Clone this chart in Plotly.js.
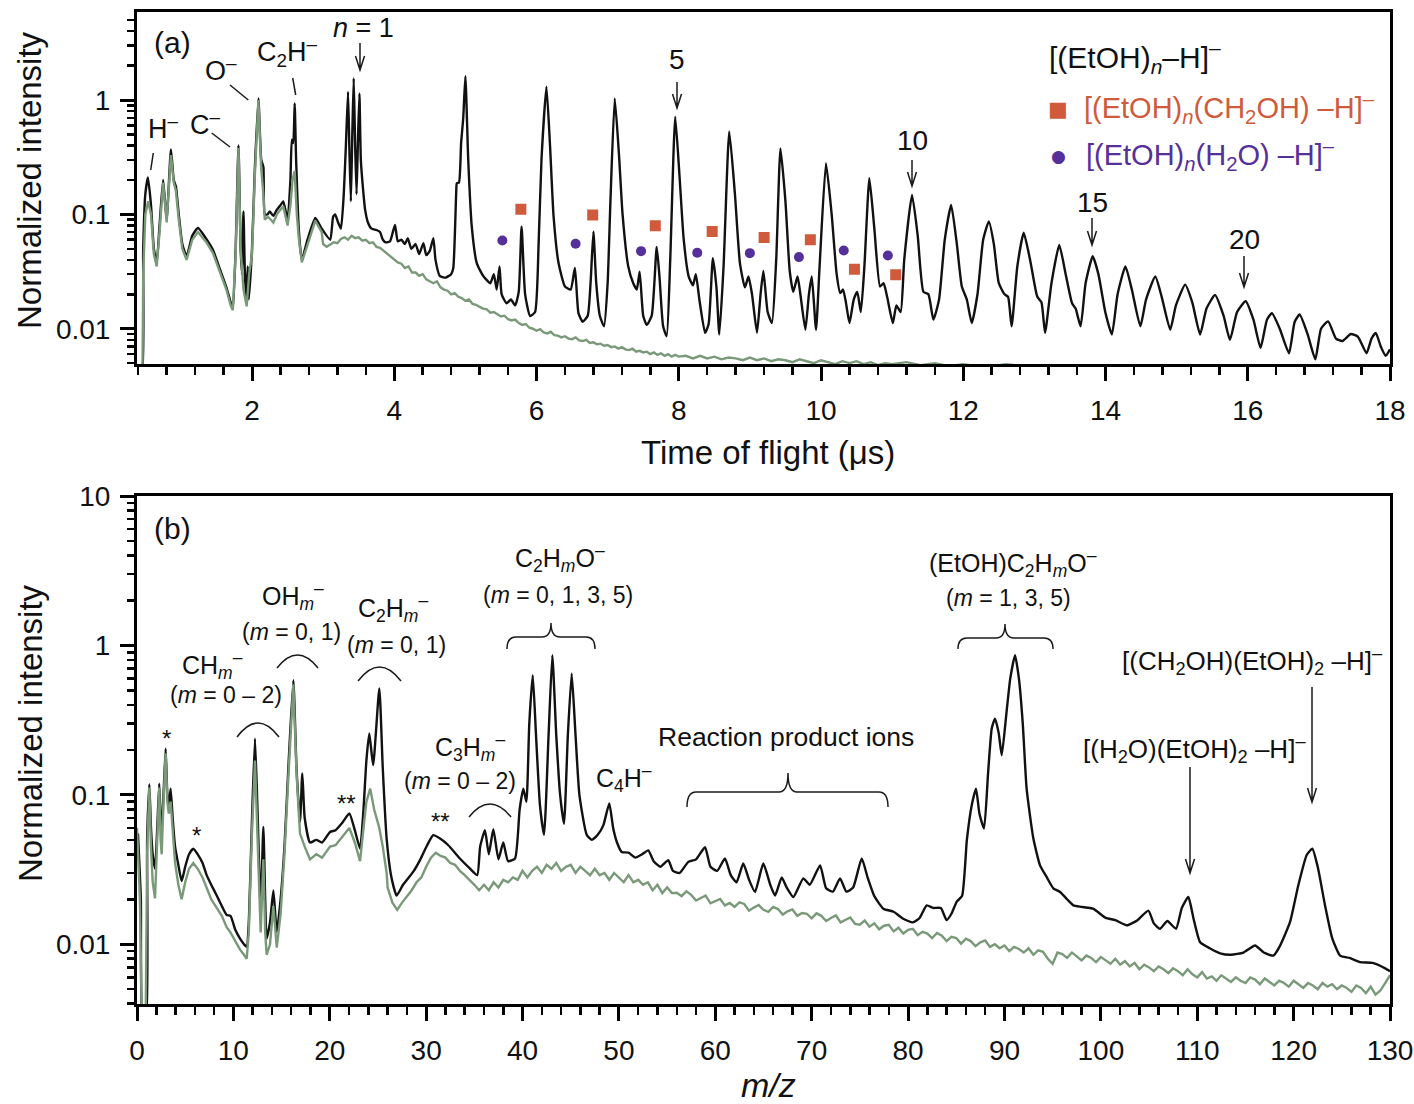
<!DOCTYPE html>
<html>
<head>
<meta charset="utf-8">
<script src="https://cdn.plot.ly/plotly-3.0.1.min.js"></script>
<style>html,body{margin:0;padding:0;background:#fff;}#chart{width:1414px;height:1104px;}</style>
</head>
<body>
<div id="chart"></div>
<script>
// ---------- DATA ----------
// Panel (a): time of flight (µs) vs normalized intensity
const tofTicks = [2, 4, 6, 8, 10, 12, 14, 16, 18];
const intensityTicksA = [0.01, 0.1, 1];
const intensityTextA = ['0.01', '0.1', '1'];

// ethanol + Ar sample (black)
const ethanolTof = [
[0.40,0.004],[0.45,0.004],[0.47,0.05],[0.50,0.15],[0.537,0.21],[0.58,0.12],[0.62,0.05],[0.66,0.038],[0.70,0.08],[0.75,0.20],
[0.80,0.09],[0.86,0.37],[0.90,0.20],[0.93,0.175],[0.97,0.10],[1.02,0.055],[1.08,0.043],[1.16,0.065],[1.24,0.076],[1.35,0.062],
[1.45,0.049],[1.55,0.033],[1.64,0.023],[1.70,0.017],[1.73,0.015],[1.77,0.05],[1.81,0.40],[1.84,0.05],[1.86,0.03],[1.88,0.106],
[1.90,0.03],[1.92,0.018],[1.94,0.035],[1.955,0.018],[2.00,0.05],[2.04,0.25],[2.09,1.03],[2.13,0.30],[2.16,0.26],[2.18,0.10],
[2.22,0.10],[2.25,0.106],[2.30,0.097],[2.35,0.11],[2.40,0.12],[2.44,0.13],[2.50,0.09],[2.54,0.2],[2.56,0.45],[2.58,0.42],
[2.60,0.935],[2.62,0.30],[2.66,0.07],[2.70,0.040],[2.78,0.06],[2.89,0.093],[2.98,0.075],[3.10,0.060],[3.14,0.095],[3.17,0.10],
[3.21,0.085],[3.25,0.075],[3.29,0.15],[3.32,0.4],[3.35,1.18],[3.37,0.35],[3.39,0.13],[3.41,0.5],[3.43,1.55],[3.45,0.40],
[3.47,0.15],[3.49,0.45],[3.51,1.14],[3.53,0.30],[3.56,0.17],[3.59,0.11],[3.63,0.085],[3.68,0.075],[3.75,0.073],[3.80,0.070],
[3.84,0.060],[3.88,0.057],[3.94,0.058],[4.01,0.081],[4.05,0.058],[4.10,0.060],[4.15,0.055],[4.19,0.062],[4.24,0.050],[4.30,0.055],
[4.35,0.045],[4.41,0.056],[4.45,0.044],[4.50,0.048],[4.55,0.062],[4.58,0.040],[4.64,0.029],[4.72,0.028],[4.80,0.030],[4.83,0.034],
[4.87,0.15],[4.88,0.187],[4.91,0.19],[4.94,0.42],[4.97,0.70],[5.00,1.62],[5.04,0.30],[5.09,0.078],[5.16,0.0375],[5.25,0.029],
[5.35,0.025],[5.40,0.030],[5.44,0.022],[5.48,0.035],[5.51,0.020],[5.58,0.0167],[5.64,0.018],[5.70,0.016],[5.75,0.021],[5.79,0.078],
[5.84,0.020],[5.91,0.0129],[5.98,0.014],[6.03,0.056],[6.07,0.30],[6.14,1.31],[6.19,0.40],[6.24,0.096],[6.31,0.0375],[6.40,0.0234],
[6.48,0.022],[6.54,0.034],[6.59,0.0137],[6.65,0.0115],[6.72,0.013],[6.76,0.025],[6.80,0.0707],[6.84,0.025],[6.89,0.013],[6.95,0.0105],
[7.00,0.025],[7.04,0.134],[7.10,1.03],[7.16,0.33],[7.21,0.10],[7.29,0.035],[7.36,0.025],[7.41,0.022],[7.45,0.0316],[7.50,0.013],
[7.55,0.0108],[7.62,0.013],[7.69,0.052],[7.73,0.028],[7.78,0.0105],[7.83,0.0086],[7.88,0.040],[7.95,0.715],[8.01,0.22],[8.07,0.060],
[8.14,0.0286],[8.20,0.024],[8.24,0.030],[8.29,0.018],[8.37,0.0092],[8.42,0.011],[8.48,0.0414],[8.53,0.023],[8.57,0.0089],[8.63,0.035],
[8.71,0.53],[8.79,0.15],[8.86,0.0375],[8.93,0.023],[8.98,0.0286],[9.03,0.020],[9.10,0.0092],[9.15,0.020],[9.19,0.032],[9.25,0.014],
[9.31,0.0112],[9.37,0.040],[9.43,0.378],[9.50,0.13],[9.56,0.032],[9.61,0.021],[9.67,0.0286],[9.71,0.020],[9.78,0.0098],[9.83,0.020],
[9.87,0.0286],[9.93,0.0098],[9.98,0.035],[10.07,0.28],[10.15,0.10],[10.22,0.030],[10.27,0.0205],[10.31,0.022],[10.35,0.017],[10.40,0.0112],
[10.46,0.018],[10.51,0.021],[10.56,0.014],[10.61,0.035],[10.68,0.207],[10.75,0.075],[10.83,0.0234],[10.88,0.025],[10.93,0.019],[11.01,0.0112],
[11.06,0.016],[11.12,0.014],[11.17,0.040],[11.28,0.148],[11.36,0.065],[11.44,0.021],[11.51,0.020],[11.58,0.012],[11.66,0.018],[11.74,0.060],
[11.83,0.121],[11.91,0.055],[11.98,0.0234],[12.05,0.018],[12.12,0.0112],[12.20,0.020],[12.28,0.060],[12.36,0.0868],[12.43,0.055],[12.50,0.025],
[12.58,0.020],[12.63,0.019],[12.68,0.0105],[12.76,0.035],[12.85,0.069],[12.94,0.040],[13.04,0.0191],[13.10,0.017],[13.15,0.0092],[13.24,0.025],
[13.35,0.054],[13.44,0.030],[13.53,0.0167],[13.58,0.015],[13.65,0.0105],[13.72,0.025],[13.82,0.043],[13.90,0.030],[14.00,0.0137],[14.09,0.0089],
[14.17,0.020],[14.28,0.035],[14.37,0.022],[14.49,0.0105],[14.57,0.018],[14.70,0.0286],[14.79,0.019],[14.91,0.0098],[14.99,0.016],[15.12,0.0243],
[15.22,0.017],[15.33,0.0089],[15.42,0.015],[15.54,0.0197],[15.66,0.013],[15.75,0.0080],[15.85,0.014],[15.97,0.0174],[16.08,0.012],[16.18,0.0068],
[16.27,0.012],[16.34,0.0137],[16.45,0.010],[16.58,0.0061],[16.66,0.0115],[16.73,0.0133],[16.84,0.0090],[16.95,0.0054],[17.03,0.010],[17.13,0.0116],
[17.24,0.0082],[17.33,0.0078],[17.45,0.0090],[17.55,0.0085],[17.67,0.0061],[17.74,0.0082],[17.80,0.0092],[17.87,0.0070],[17.94,0.0058],[18.00,0.0066]
];

// Ar only background (green)
const backgroundTof = [
[0.40,0.004],[0.46,0.004],[0.47,0.03],[0.50,0.10],[0.54,0.13],[0.58,0.10],[0.62,0.045],[0.66,0.035],[0.70,0.07],[0.75,0.19],
[0.80,0.085],[0.86,0.33],[0.90,0.19],[0.93,0.16],[0.97,0.09],[1.02,0.05],[1.08,0.040],[1.16,0.060],[1.24,0.070],[1.35,0.058],
[1.45,0.046],[1.55,0.031],[1.64,0.022],[1.70,0.016],[1.73,0.0145],[1.77,0.045],[1.81,0.38],[1.84,0.05],[1.88,0.022],[1.925,0.0157],
[1.96,0.03],[2.00,0.045],[2.04,0.22],[2.09,1.00],[2.13,0.25],[2.16,0.15],[2.18,0.09],[2.22,0.095],[2.25,0.092],[2.30,0.085],
[2.35,0.10],[2.40,0.11],[2.44,0.117],[2.50,0.08],[2.54,0.12],[2.57,0.20],[2.60,0.24],[2.63,0.10],[2.66,0.06],[2.70,0.038],
[2.78,0.055],[2.89,0.088],[2.98,0.070],
[3.00,0.055],[3.05,0.052],[3.10,0.054],[3.15,0.057],[3.20,0.056],[3.25,0.061],[3.30,0.063],[3.35,0.060],[3.40,0.065],[3.45,0.062],
[3.50,0.063],[3.55,0.059],[3.60,0.060],[3.65,0.056],[3.70,0.057],[3.75,0.052],[3.80,0.051],[3.85,0.048],[3.90,0.046],[3.95,0.043],
[4.00,0.040],[4.05,0.038],[4.10,0.037],[4.15,0.034],[4.20,0.035],[4.25,0.031],[4.30,0.031],[4.35,0.029],[4.40,0.030],[4.45,0.027],
[4.50,0.026],[4.55,0.025],[4.60,0.026],[4.65,0.023],[4.70,0.022],[4.75,0.0215],[4.80,0.020],[4.85,0.0205],[4.90,0.019],[4.95,0.0185],
[5.00,0.0175],[5.05,0.018],[5.10,0.0165],[5.15,0.0162],[5.20,0.0155],[5.25,0.015],[5.30,0.0148],[5.35,0.0138],[5.40,0.014],[5.45,0.0133],
[5.50,0.0128],[5.55,0.0130],[5.60,0.0121],[5.65,0.0118],[5.70,0.0120],[5.75,0.0112],[5.80,0.0108],[5.85,0.0110],[5.90,0.0102],[5.95,0.0100],
[6.00,0.0096],[6.05,0.0099],[6.10,0.0093],[6.15,0.0091],[6.20,0.0094],[6.25,0.0088],[6.30,0.0087],[6.35,0.0084],[6.40,0.0086],[6.45,0.0082],
[6.50,0.0081],[6.55,0.0084],[6.60,0.0079],[6.65,0.0078],[6.70,0.0080],[6.75,0.0075],[6.80,0.0076],[6.85,0.0073],[6.90,0.0074],[6.95,0.0071],
[7.00,0.0072],[7.05,0.0069],[7.10,0.0070],[7.15,0.0067],[7.20,0.0069],[7.25,0.0066],[7.30,0.0065],[7.35,0.0067],[7.40,0.0063],[7.45,0.0064],
[7.50,0.0062],[7.55,0.0063],[7.60,0.0060],[7.65,0.0062],[7.70,0.0059],[7.75,0.0061],[7.80,0.0058],[7.85,0.0060],[7.90,0.0057],[7.95,0.0059],
[8.00,0.0057],[8.10,0.0058],[8.20,0.0055],[8.30,0.0058],[8.40,0.0055],[8.50,0.0057],[8.60,0.0054],[8.70,0.0056],[8.80,0.0055],[8.90,0.0053],
[9.00,0.0056],[9.10,0.0053],[9.20,0.0055],[9.30,0.0052],[9.40,0.0054],[9.50,0.0053],[9.60,0.0051],[9.70,0.0054],[9.80,0.0052],[9.90,0.0050],
[10.0,0.0053],[10.1,0.0051],[10.2,0.0049],[10.3,0.0052],[10.4,0.0050],[10.5,0.0052],[10.6,0.0049],[10.7,0.0051],[10.8,0.0048],[10.9,0.0050],
[11.0,0.0049],[11.2,0.0051],[11.4,0.0048],[11.6,0.0050],[11.8,0.0047],[12.0,0.0049],[12.3,0.0046],[12.6,0.0049],[13.0,0.0046],[13.4,0.0048],
[13.8,0.0045],[14.2,0.0047],[14.6,0.0044],[15.0,0.0046],[15.5,0.0044],[16.0,0.0046],[16.5,0.0043],[17.0,0.0045],[17.5,0.0043],[18.0,0.0044]
];

// cluster-series markers in panel (a)
const ch2ohTof = [5.78, 6.79, 7.67, 8.47, 9.20, 9.85, 10.47, 11.05];
const ch2ohInt = [0.111, 0.099, 0.0794, 0.0708, 0.0627, 0.0599, 0.0332, 0.0296];
const h2oTof = [5.52, 6.55, 7.47, 8.26, 9.00, 9.69, 10.32, 10.94];
const h2oInt = [0.059, 0.0553, 0.0477, 0.0461, 0.0458, 0.0423, 0.0483, 0.0437];

// Panel (b): m/z vs normalized intensity
const intensityTicksB = [0.01, 0.1, 1, 10];
const intensityTextB = ['0.01', '0.1', '1', '10'];

const ethanolMz = [
[0.1,0.055],[0.4,0.02],[0.6,0.003],[0.9,0.003],[1.05,0.05],[1.28,0.118],[1.45,0.06],[1.63,0.04],[1.87,0.032],[2.1,0.06],
[2.31,0.119],[2.45,0.07],[2.56,0.055],[2.75,0.1],[2.97,0.204],[3.15,0.1],[3.3,0.085],[3.49,0.11],[3.7,0.07],[3.95,0.045],
[4.29,0.034],[4.63,0.0265],[5.0,0.033],[5.4,0.040],[5.84,0.0436],[6.3,0.04],[6.8,0.035],[7.23,0.029],[7.7,0.025],[8.27,0.0212],
[8.8,0.018],[9.3,0.0157],[9.7,0.0155],[10.2,0.0125],[10.69,0.0109],[11.1,0.010],[11.38,0.0096],[11.6,0.014],[11.9,0.06],[12.24,0.239],
[12.5,0.08],[12.83,0.018],[13.11,0.061],[13.3,0.02],[13.45,0.0109],[13.8,0.014],[14.15,0.0229],[14.5,0.0121],[14.9,0.02],[15.3,0.045],
[15.7,0.15],[16.22,0.585],[16.55,0.15],[16.91,0.066],[17.15,0.139],[17.4,0.07],[17.95,0.048],[18.6,0.05],[19.2,0.048],[20.03,0.0565],
[20.6,0.058],[21.3,0.065],[22.03,0.075],[22.6,0.058],[23.14,0.0436],[23.5,0.08],[23.8,0.17],[24.10,0.258],[24.5,0.158],[25.14,0.515],
[25.5,0.15],[25.90,0.051],[26.4,0.028],[26.94,0.0212],[27.6,0.025],[28.67,0.0306],[29.4,0.037],[30.1,0.046],[30.74,0.0537],[31.44,0.051],
[32.3,0.046],[33.5,0.0375],[34.55,0.0321],[35.3,0.029],[35.6,0.045],[36.1,0.058],[36.5,0.040],[36.97,0.059],[37.5,0.037],[38.0,0.048],
[38.5,0.036],[39.22,0.0375],[39.7,0.08],[40.08,0.11],[40.4,0.09],[40.7,0.3],[41.06,0.633],[41.4,0.25],[41.81,0.085],[42.23,0.054],
[42.7,0.25],[43.09,0.861],[43.5,0.25],[43.9,0.1],[44.30,0.064],[44.7,0.25],[45.1,0.65],[45.5,0.25],[45.9,0.1],[46.66,0.054],
[47.2,0.05],[47.8,0.054],[48.38,0.0625],[49.0,0.0876],[49.4,0.06],[49.8,0.048],[50.29,0.0415],[51.0,0.041],[51.7,0.038],[52.4,0.04],
[53.05,0.0425],[53.6,0.036],[54.3,0.033],[55.12,0.0365],[55.6,0.031],[56.3,0.030],[57.2,0.0356],[58.0,0.037],[58.93,0.0446],[59.5,0.033],
[60.2,0.031],[61.0,0.0375],[61.6,0.029],[62.2,0.026],[62.9,0.0347],[63.5,0.027],[64.12,0.0224],[64.98,0.0347],[65.7,0.025],[66.2,0.0212],
[66.89,0.028],[67.4,0.024],[68.1,0.0207],[69.13,0.0276],[69.8,0.025],[70.87,0.0337],[71.5,0.0237],[72.2,0.0225],[72.94,0.0276],[73.6,0.0225],
[74.3,0.024],[75.19,0.0375],[75.8,0.028],[76.5,0.021],[77.44,0.0173],[78.5,0.0165],[79.5,0.0148],[80.5,0.014],[81.2,0.015],[81.93,0.0182],
[82.6,0.0175],[83.4,0.0175],[84.0,0.0145],[84.5,0.016],[85.05,0.0193],[85.6,0.021],[86.1,0.05],[86.6,0.085],[87.05,0.110],[87.4,0.075],
[87.88,0.0595],[88.3,0.14],[88.68,0.278],[89.02,0.324],[89.4,0.26],[89.72,0.184],[90.2,0.35],[90.6,0.6],[91.1,0.861],[91.5,0.6],
[91.9,0.3],[92.3,0.11],[93.0,0.051],[93.69,0.0337],[94.4,0.028],[95.07,0.0237],[95.77,0.0224],[96.5,0.02],[97.15,0.0182],[98.0,0.0178],
[99.2,0.0173],[100.5,0.015],[101.5,0.0145],[102.7,0.0134],[103.8,0.0145],[104.93,0.0168],[105.5,0.0138],[106.14,0.0127],[106.9,0.0143],[107.8,0.0127],
[108.4,0.0175],[109.08,0.0207],[109.6,0.015],[110.3,0.0103],[111.3,0.0094],[112.37,0.0087],[113.5,0.0085],[114.8,0.0088],[116.0,0.0098],[116.9,0.0088],
[117.9,0.0084],[118.6,0.0098],[119.63,0.0141],[120.5,0.025],[121.36,0.0396],[121.94,0.0436],[122.5,0.033],[123.26,0.0182],[124.0,0.011],[124.82,0.0084],
[125.8,0.0081],[126.9,0.0076],[128.2,0.0075],[129.5,0.0069],[130.0,0.0066]
];

const backgroundMz = [
[0.0,0.06],[0.3,0.02],[0.5,0.003],[0.9,0.003],[1.05,0.04],[1.28,0.112],[1.45,0.045],[1.63,0.026],[1.87,0.0203],[2.1,0.05],
[2.31,0.112],[2.45,0.05],[2.56,0.04],[2.75,0.09],[2.97,0.19],[3.15,0.09],[3.3,0.075],[3.49,0.09],[3.7,0.055],[3.95,0.035],
[4.29,0.025],[4.63,0.02],[5.0,0.026],[5.4,0.032],[5.84,0.035],[6.3,0.032],[6.8,0.028],[7.23,0.024],[7.7,0.02],[8.27,0.0175],
[8.8,0.0155],[9.3,0.013],[9.7,0.012],[10.2,0.0105],[10.69,0.0092],[11.1,0.0085],[11.38,0.008],[11.6,0.012],[11.9,0.05],[12.24,0.17],
[12.5,0.06],[12.83,0.012],[13.11,0.037],[13.3,0.012],[13.45,0.0085],[13.8,0.010],[14.15,0.018],[14.5,0.0095],[14.9,0.016],[15.3,0.04],
[15.7,0.13],[16.22,0.55],[16.55,0.14],[16.91,0.055],[17.15,0.05],[17.4,0.045],[17.95,0.037],[18.6,0.040],[19.2,0.038],[20.03,0.045],
[20.6,0.046],[21.3,0.052],[22.03,0.06],[22.6,0.048],[23.14,0.036],[23.5,0.06],[23.8,0.09],[24.2,0.11],[24.6,0.08],[25.14,0.06],
[25.5,0.045],[25.9,0.03],
[26.0,0.024],[26.5,0.019],[27.0,0.017],[27.5,0.019],[28.0,0.021],[28.5,0.023],[29.0,0.026],[29.5,0.028],[30.0,0.033],[30.5,0.038],
[31.0,0.041],[31.5,0.039],[32.0,0.038],[32.5,0.035],[33.0,0.034],[33.5,0.031],[34.0,0.029],[34.5,0.027],[35.0,0.025],[35.5,0.023],
[36.0,0.025],[36.5,0.023],[37.0,0.026],[37.5,0.024],[38.0,0.027],[38.5,0.026],[39.0,0.028],[39.5,0.027],[40.0,0.031],[40.5,0.028],
[41.0,0.031],[41.5,0.033],[42.0,0.030],[42.5,0.034],[43.0,0.032],[43.5,0.035],[44.0,0.031],[44.5,0.033],[45.0,0.034],[45.5,0.030],
[46.0,0.033],[46.5,0.031],[47.0,0.029],[47.5,0.032],[48.0,0.029],[48.5,0.030],[49.0,0.027],[49.5,0.030],[50.0,0.028],[50.5,0.026],
[51.0,0.029],[51.5,0.026],[52.0,0.027],[52.5,0.025],[53.0,0.026],[53.5,0.023],[54.0,0.025],[54.5,0.022],[55.0,0.024],[55.5,0.022],
[56.0,0.0221],[56.5,0.0210],[57.0,0.0226],[57.5,0.0214],[58.0,0.0196],[58.5,0.0205],[59.0,0.0212],[59.5,0.0188],[60.0,0.0195],[60.5,0.0201],
[61.0,0.0182],[61.5,0.0189],[62.0,0.0178],[62.5,0.0191],[63.0,0.0186],[63.5,0.0168],[64.0,0.0176],[64.5,0.0183],[65.0,0.0170],[65.5,0.0165],
[66.0,0.0178],[66.5,0.0172],[67.0,0.0158],[67.5,0.0166],[68.0,0.0171],[68.5,0.0155],[69.0,0.0162],[69.5,0.0160],[70.0,0.0149],[70.5,0.0161],
[71.0,0.0155],[71.5,0.0143],[72.0,0.0150],[72.5,0.0156],[73.0,0.0140],[73.5,0.0146],[74.0,0.0151],[74.5,0.0137],[75.0,0.0135],[75.5,0.0144],
[76.0,0.0131],[76.5,0.0138],[77.0,0.0126],[77.5,0.0133],[78.0,0.0135],[78.5,0.0122],[79.0,0.0129],[79.5,0.0118],[80.0,0.0125],[80.5,0.0127],
[81.0,0.0115],[81.5,0.0121],[82.0,0.0118],[82.5,0.0110],[83.0,0.0119],[83.5,0.0114],[84.0,0.0105],[84.5,0.0112],[85.0,0.0110],[85.5,0.0101],
[86.0,0.0109],[86.5,0.0105],[87.0,0.0097],[87.5,0.0103],[88.0,0.0106],[88.5,0.0096],[89.0,0.0100],[89.5,0.0094],[90.0,0.0098],[90.5,0.0090],
[91.0,0.0096],[91.5,0.0093],[92.0,0.0088],[92.5,0.0094],[93.0,0.0085],[93.5,0.0091],[94.0,0.0089],[94.5,0.0080],[95.0,0.0074],[95.5,0.0088],
[96.0,0.0086],[96.5,0.0081],[97.0,0.0088],[97.5,0.0083],[98.0,0.0078],[98.5,0.0084],[99.0,0.0081],[99.5,0.0076],[100.0,0.0082],[100.5,0.0078],
[101.0,0.0074],[101.5,0.0080],[102.0,0.0073],[102.5,0.0077],[103.0,0.0071],[103.5,0.0075],[104.0,0.0068],[104.5,0.0073],[105.0,0.0070],[105.5,0.0066],
[106.0,0.0071],[106.5,0.0068],[107.0,0.0064],[107.5,0.0069],[108.0,0.0066],[108.5,0.0062],[109.0,0.0068],[109.5,0.0063],[110.0,0.0060],[110.5,0.0065],
[111.0,0.0059],[111.5,0.0061],[112.0,0.0057],[112.5,0.0062],[113.0,0.0059],[113.5,0.0056],[114.0,0.0060],[114.5,0.0057],[115.0,0.0055],[115.5,0.0060],
[116.0,0.0058],[116.5,0.0054],[117.0,0.0059],[117.5,0.0056],[118.0,0.0053],[118.5,0.0057],[119.0,0.0055],[119.5,0.0052],[120.0,0.0057],[120.5,0.0054],
[121.0,0.0051],[121.5,0.0055],[122.0,0.0053],[122.5,0.0050],[123.0,0.0055],[123.5,0.0052],[124.0,0.0054],[124.5,0.0050],[125.0,0.0053],[125.5,0.0051],
[126.0,0.0048],[126.5,0.0053],[127.0,0.0051],[127.5,0.0047],[128.0,0.0052],[128.5,0.0046],[129.0,0.0049],[129.5,0.0055],[130.0,0.0062]
];

// ---------- STYLE ----------
const FONT = 'Liberation Sans, Arial, Helvetica, sans-serif';
const BLACK = '#111111';
const GREEN = '#7a9979';
const ORANGE = '#cf5b3c';
const PURPLE = '#55309a';

const col = (arr, i) => arr.map(p => p[i]);

function minorLog(lo, hi) {
  const v = [];
  for (let e = lo; e <= hi; e++) for (let m = 2; m <= 9; m++) v.push(m * Math.pow(10, e));
  return v;
}

// pixel -> paper helpers (plot area 137..1390 x 12..1004)
const L = 137, R = 1390, T = 12, B = 1004;
const px2x = px => (px - L) / (R - L);
const py2y = py => (B - py) / (B - T);
const pt = (px, py) => px2x(px).toFixed(5) + ',' + py2y(py).toFixed(5);

const traces = [
  {x: col(ethanolTof, 0), y: col(ethanolTof, 1), xaxis: 'x', yaxis: 'y', mode: 'lines',
   line: {color: BLACK, width: 2.4, shape: 'spline', smoothing: 0.5}, hoverinfo: 'skip'},
  {x: col(backgroundTof, 0), y: col(backgroundTof, 1), xaxis: 'x', yaxis: 'y', mode: 'lines',
   line: {color: GREEN, width: 2.4}, hoverinfo: 'skip'},
  {x: ch2ohTof, y: ch2ohInt, xaxis: 'x', yaxis: 'y', mode: 'markers',
   marker: {symbol: 'square', size: 11, color: ORANGE}, hoverinfo: 'skip'},
  {x: h2oTof, y: h2oInt, xaxis: 'x', yaxis: 'y', mode: 'markers',
   marker: {symbol: 'circle', size: 10, color: PURPLE}, hoverinfo: 'skip'},
  {x: col(ethanolMz, 0), y: col(ethanolMz, 1), xaxis: 'x2', yaxis: 'y2', mode: 'lines',
   line: {color: BLACK, width: 2.4, shape: 'spline', smoothing: 0.5}, hoverinfo: 'skip'},
  {x: col(backgroundMz, 0), y: col(backgroundMz, 1), xaxis: 'x2', yaxis: 'y2', mode: 'lines',
   line: {color: GREEN, width: 2.4}, hoverinfo: 'skip'}
];

const axisCommon = {
  showline: true, linewidth: 3, linecolor: '#000', mirror: true,
  ticks: 'outside', ticklen: 14, tickwidth: 3, tickcolor: '#000',
  showgrid: false, zeroline: false,
  tickfont: {family: FONT, size: 28, color: '#111'}
};

const layout = {
  width: 1414, height: 1104,
  margin: {l: L, r: 1414 - R, t: T, b: 1104 - B},
  paper_bgcolor: '#fff', plot_bgcolor: '#fff',
  showlegend: false,
  font: {family: FONT, color: '#111'},
  xaxis: Object.assign({}, axisCommon, {
    domain: [0, 1], anchor: 'y', range: [0.383, 18],
    tickmode: 'array', tickvals: tofTicks, ticktext: tofTicks.map(String),
    ticklabelstandoff: 5,
    minor: {ticks: 'outside', tick0: 0, dtick: 0.4, ticklen: 8, tickwidth: 2.5, tickcolor: '#000'}
  }),
  yaxis: Object.assign({}, axisCommon, {
    domain: [0.645, 1], anchor: 'x', type: 'log', range: [-2.31, 0.77],
    tickmode: 'array', tickvals: intensityTicksA, ticktext: intensityTextA,
    ticklabelstandoff: 4,
    minor: {ticks: 'outside', tickmode: 'array', tickvals: minorLog(-3, 0).filter(v => v >= 0.005 && v <= 5.5), ticklen: 7, tickwidth: 2.5, tickcolor: '#000'}
  }),
  xaxis2: Object.assign({}, axisCommon, {
    domain: [0, 1], anchor: 'y2', range: [0, 130],
    tickmode: 'linear', tick0: 0, dtick: 10,
    ticklabelstandoff: 5,
    minor: {ticks: 'outside', tick0: 0, dtick: 2, ticklen: 8, tickwidth: 2.5, tickcolor: '#000'}
  }),
  yaxis2: Object.assign({}, axisCommon, {
    domain: [0, 0.512], anchor: 'x2', type: 'log', range: [-2.40, 1.0],
    tickmode: 'array', tickvals: intensityTicksB, ticktext: intensityTextB,
    ticklabelstandoff: 4,
    minor: {ticks: 'outside', tickmode: 'array', tickvals: minorLog(-3, 0).filter(v => v >= 0.004), ticklen: 7, tickwidth: 2.5, tickcolor: '#000'}
  }),
  annotations: [],
  shapes: []
};

function txt(text, px, py, size, opts) {
  layout.annotations.push(Object.assign({
    xref: 'paper', yref: 'paper', x: px2x(px), y: py2y(py), text: text, showarrow: false,
    xanchor: 'center', yanchor: 'middle',
    font: {family: FONT, size: size, color: '#111'}
  }, opts || {}));
}
function pathShape(d, width) {
  layout.shapes.push({type: 'path', xref: 'paper', yref: 'paper', path: d,
    line: {color: '#1a1a1a', width: width || 1.5}});
}
function seg(x0, y0, x1, y1) { pathShape(`M${pt(x0, y0)} L${pt(x1, y1)}`, 1.5); }
function arrowDown(px, y0, y1) {
  pathShape(`M${pt(px, y0)} L${pt(px, y1)} M${pt(px - 4.5, y1 - 14)} L${pt(px, y1)} L${pt(px + 4.5, y1 - 14)}`, 1.5);
}
function arc(x0, x1, yb, yt) {
  pathShape(`M${pt(x0, yb)} Q${pt((x0 + x1) / 2, 2 * yt - yb)} ${pt(x1, yb)}`, 1.5);
}
function brace(x0, x1, ye, yb, xc, ya) {
  const r = 9;
  pathShape(`M${pt(x0, ye)} Q${pt(x0, yb)} ${pt(x0 + r, yb)} L${pt(xc - r, yb)} Q${pt(xc, yb)} ${pt(xc, ya)} ` +
            `Q${pt(xc, yb)} ${pt(xc + r, yb)} L${pt(x1 - r, yb)} Q${pt(x1, yb)} ${pt(x1, ye)}`, 1.5);
}

// axis titles
txt('Time of flight (μs)', 768, 452, 33);
txt('<i>m/z</i>', 768, 1085, 34);
txt('Normalized intensity', 30, 180, 33, {textangle: -90});
txt('Normalized intensity', 30, 733, 33, {textangle: -90});

// panel (a) labels
txt('(a)', 172, 42, 30);
txt('H<sup>–</sup>', 163, 127, 27);
txt('C<sup>–</sup>', 205, 123, 27);
txt('O<sup>–</sup>', 221, 69, 27);
txt('C<sub>2</sub>H<sup>–</sup>', 287, 52, 27);
txt('<i>n</i> = 1', 363, 28, 27);
txt('5', 677, 60, 28);
txt('10', 912, 141, 28);
txt('15', 1092, 202, 28);
txt('20', 1244, 239, 28);
seg(153.3, 153, 150.7, 170);
seg(211.7, 133, 230, 147);
seg(230, 85, 248.3, 100);
seg(292.7, 78, 295.7, 95);
arrowDown(360, 43, 70);
arrowDown(677, 82, 108);
arrowDown(912, 160, 186);
arrowDown(1092, 218, 245);
arrowDown(1244, 256, 287);

// legend (a)
txt('[(EtOH)<sub><i>n</i></sub>–H]<sup>–</sup>', 1047, 57, 30, {xanchor: 'left'});
txt('■', 1058, 109, 21, {font: {family: 'DejaVu Sans', size: 21, color: ORANGE}});
txt('[(EtOH)<sub><i>n</i></sub>(CH<sub>2</sub>OH) –H]<sup>–</sup>', 1082, 108, 29, {xanchor: 'left', font: {family: FONT, size: 29, color: ORANGE}});
txt('●', 1058, 156, 17, {font: {family: 'DejaVu Sans', size: 17, color: PURPLE}});
txt('[(EtOH)<sub><i>n</i></sub>(H<sub>2</sub>O) –H]<sup>–</sup>', 1084, 155, 29, {xanchor: 'left', font: {family: FONT, size: 29, color: PURPLE}});

// panel (b) labels
txt('(b)', 172, 528, 30);
txt('*', 166, 738, 24);
txt('*', 196, 835, 24);
txt('**', 346, 803, 24);
txt('**', 440, 821, 24);
txt('CH<sub><i>m</i></sub><sup>–</sup>', 212, 665, 25);
txt('(<i>m</i> = 0 – 2)', 226, 695, 23);
txt('OH<sub><i>m</i></sub><sup>–</sup>', 293, 596, 25);
txt('(<i>m</i> = 0, 1)', 291, 632, 23);
txt('C<sub>2</sub>H<sub><i>m</i></sub><sup>–</sup>', 393, 608, 25);
txt('(<i>m</i> = 0, 1)', 396, 645, 23);
txt('C<sub>3</sub>H<sub><i>m</i></sub><sup>–</sup>', 470, 747, 25);
txt('(<i>m</i> = 0 – 2)', 460, 781, 23);
txt('C<sub>2</sub>H<sub><i>m</i></sub>O<sup>–</sup>', 560, 558, 25);
txt('(<i>m</i> = 0, 1, 3, 5)', 558, 595, 23);
txt('C<sub>4</sub>H<sup>–</sup>', 624, 778, 25);
txt('Reaction product ions', 786, 737, 26.5);
txt('(EtOH)C<sub>2</sub>H<sub><i>m</i></sub>O<sup>–</sup>', 1013, 563, 25);
txt('(<i>m</i> = 1, 3, 5)', 1008, 598, 23);
txt('[(CH<sub>2</sub>OH)(EtOH)<sub>2</sub> –H]<sup>–</sup>', 1252, 661, 26);
txt('[(H<sub>2</sub>O)(EtOH)<sub>2</sub> –H]<sup>–</sup>', 1194, 749, 26);

arc(237, 279, 737, 723);
arc(277, 318, 668, 655);
arc(358, 401, 681, 667);
arc(469, 511, 817, 804);
brace(507, 595, 649, 637, 551, 623);
brace(687, 888, 807, 792, 788, 773);
brace(958, 1053, 649, 638, 1005, 624);
arrowDown(1312, 687, 802);
arrowDown(1190, 767, 873);

Plotly.newPlot('chart', traces, layout, {displayModeBar: false, staticPlot: true});
</script>
</body>
</html>
